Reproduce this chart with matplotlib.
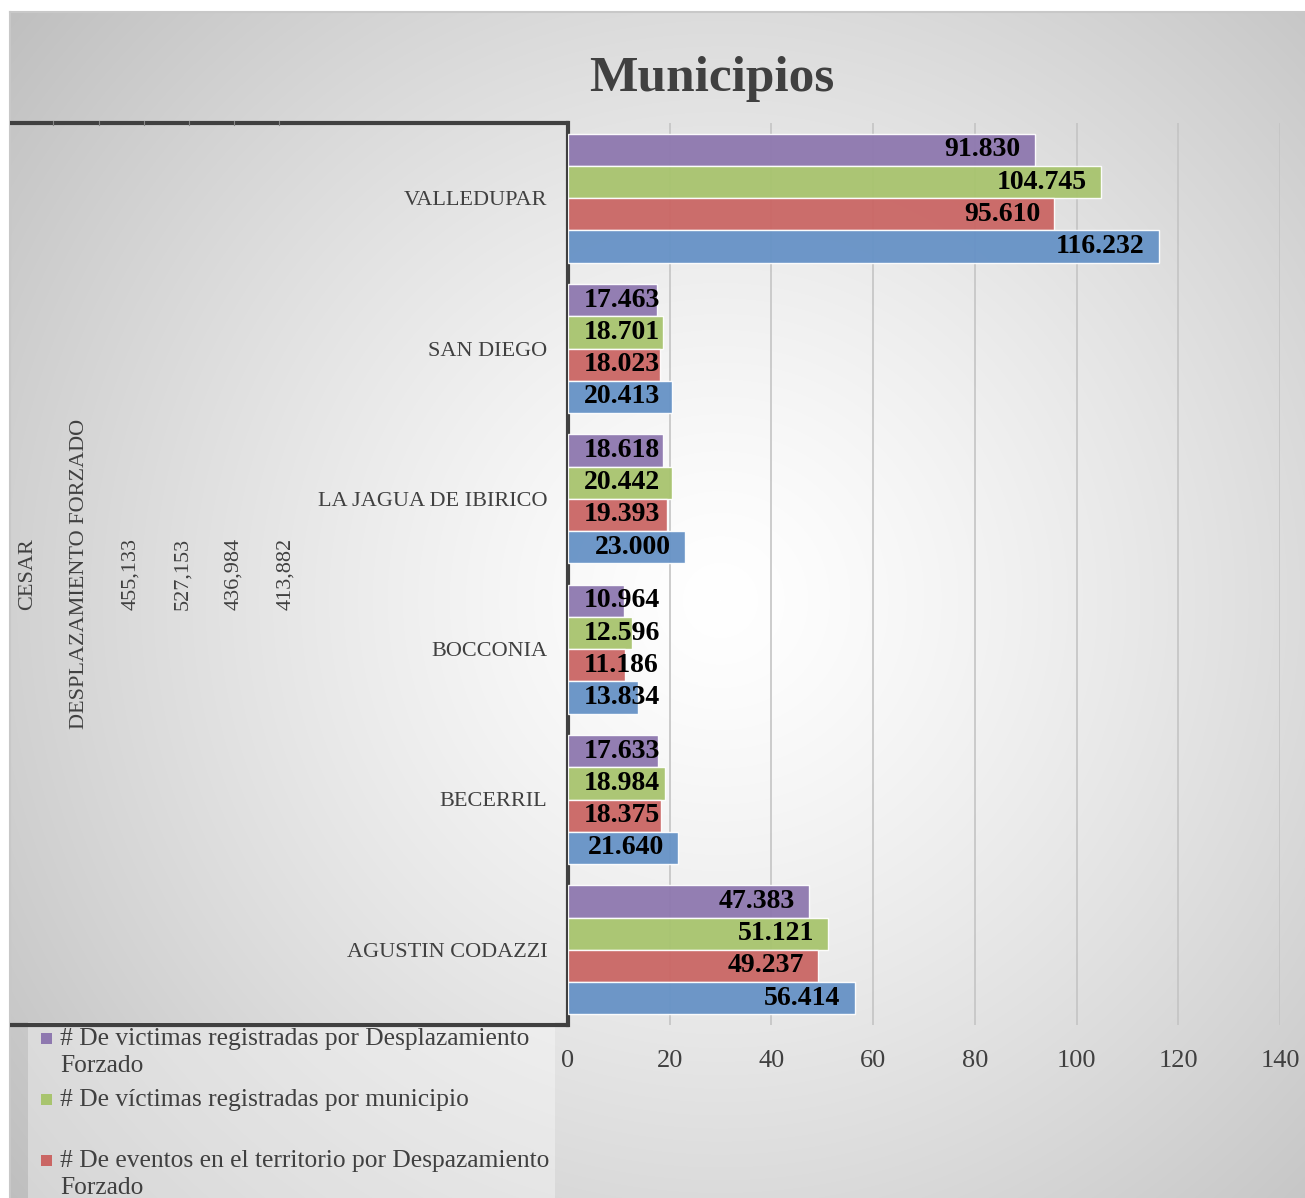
import numpy as np
import matplotlib.pyplot as plt
from matplotlib.patches import Rectangle

plt.rcParams['font.family'] = ['Liberation Serif', 'DejaVu Serif']

# datos (de arriba hacia abajo)
municipios = ['VALLEDUPAR', 'SAN DIEGO', 'LA JAGUA DE IBIRICO',
              'BOCCONIA', 'BECERRIL', 'AGUSTIN CODAZZI']
victimas_desplazamiento = [91.830, 17.463, 18.618, 10.964, 17.633, 47.383]
victimas_municipio = [104.745, 18.701, 20.442, 12.596, 18.984, 51.121]
eventos_territorio = [95.610, 18.023, 19.393, 11.186, 18.375, 49.237]
serie_azul = [116.232, 20.413, 23.000, 13.834, 21.640, 56.414]

series = [victimas_desplazamiento, victimas_municipio, eventos_territorio, serie_azul]
nombres = ['# De victimas registradas por Desplazamiento\nForzado',
           '# De víctimas registradas por municipio',
           '# De eventos en el territorio por Despazamiento\nForzado']
colores = ['#8e78af', '#a8c46e', '#ca6664', '#6692c6']

niveles = ['CESAR', 'DESPLAZAMIENTO FORZADO', '455,133', '527,153', '436,984', '413,882']
ticks_x = [0, 20, 40, 60, 80, 100, 120, 140]

W, H = 1305, 1198
gris = '#404040'

fig = plt.figure(figsize=(W / 100, H / 100), dpi=100)

# fondo con degradado radial
bg = fig.add_axes([0, 0, 1, 1], zorder=-10)
bg.set_xlim(0, W)
bg.set_ylim(H, 0)
bg.axis('off')
yy, xx = np.mgrid[0:H, 0:W]
d = np.sqrt((xx - 720) ** 2 + (yy - 600) ** 2) / 900
img = 255 - 62 * np.clip(d, 0, 1.2) ** 1.3
img = np.stack([img] * 3, axis=-1) / 255
img[:12, :, :] = 1
img[:, :10, :] = 1
bg.imshow(img, extent=(0, W, H, 0), aspect='auto', interpolation='bilinear')
bg.plot([10, W], [12, 12], color='#c8c8c8', lw=1.5)
bg.plot([10, 10], [12, H], color='#c8c8c8', lw=1.5)

# grafico de barras
ax = fig.add_axes([568 / W, 1 - 1025 / H, (1280 - 568) / W, (1025 - 123) / H])
ax.set_facecolor('none')
n = len(municipios)
y = np.arange(n)[::-1]
alto = 0.215
desp = [1.5, 0.5, -0.5, -1.5]
for s, vals in enumerate(series):
    pos = y + desp[s] * alto
    ax.barh(pos, vals, height=alto, color=colores[s], alpha=0.95,
            edgecolor=(1, 1, 1, 0.6), linewidth=1, zorder=3)
    for p, v in zip(pos, vals):
        if v - 2.8 < 18.3:
            ax.text(3.1, p, f'{v:.3f}', ha='left', va='center',
                    fontsize=20, fontweight='bold', color='black', zorder=4)
        else:
            ax.text(v - 2.8, p, f'{v:.3f}', ha='right', va='center',
                    fontsize=20, fontweight='bold', color='black', zorder=4)

ax.set_xlim(0, 140)
ax.set_ylim(-0.5, n - 0.5)
ax.set_xticks(ticks_x)
ax.set_xticklabels([str(t) for t in ticks_x], fontsize=19, color=gris)
ax.set_yticks(y)
ax.set_yticklabels(municipios, fontsize=16, color=gris)
ax.tick_params(axis='x', length=0, pad=18)
ax.tick_params(axis='y', length=0, pad=15)
ax.grid(axis='x', color='#c4c4c4', lw=1.2, zorder=0)
for lado in ['top', 'right', 'bottom']:
    ax.spines[lado].set_visible(False)
ax.spines['left'].set_color(gris)
ax.spines['left'].set_linewidth(3)

# capa superior: marco de categorias, niveles y leyenda
ov = fig.add_axes([0, 0, 1, 1], zorder=5)
ov.set_xlim(0, W)
ov.set_ylim(H, 0)
ov.axis('off')
ov.plot([10, 569], [123, 123], color=gris, lw=3, solid_capstyle='butt')
ov.plot([10, 569], [1025, 1025], color=gris, lw=3, solid_capstyle='butt')
for xs in [53, 99, 144, 189, 234, 279]:
    ov.plot([xs, xs], [121, 125], color='#888888', lw=0.8)

xs_niveles = [28, 80, 131, 183, 234, 286]
for xn, t in zip(xs_niveles, niveles):
    ov.text(xn, 574, t, rotation=90, ha='center', va='center',
            fontsize=16, color=gris)

ov.text(712, 79, 'Municipios', ha='center', va='center',
        fontsize=37, fontweight='bold', color=gris)

# leyenda (la cuarta entrada queda fuera del lienzo)
ov.add_patch(Rectangle((28, 1022), 527, 180, facecolor=(1, 1, 1, 0.35),
                       edgecolor='none'))
ys_ley = [1039, 1100, 1161]
for yl, nom, col in zip(ys_ley, nombres, colores):
    ov.add_patch(Rectangle((41, yl - 6), 11, 11, facecolor=col, edgecolor='none'))
    ov.text(60, yl - 11, nom, ha='left', va='top', fontsize=18.4,
            color=gris, linespacing=1.3)

fig.savefig('out.png', dpi=100)
